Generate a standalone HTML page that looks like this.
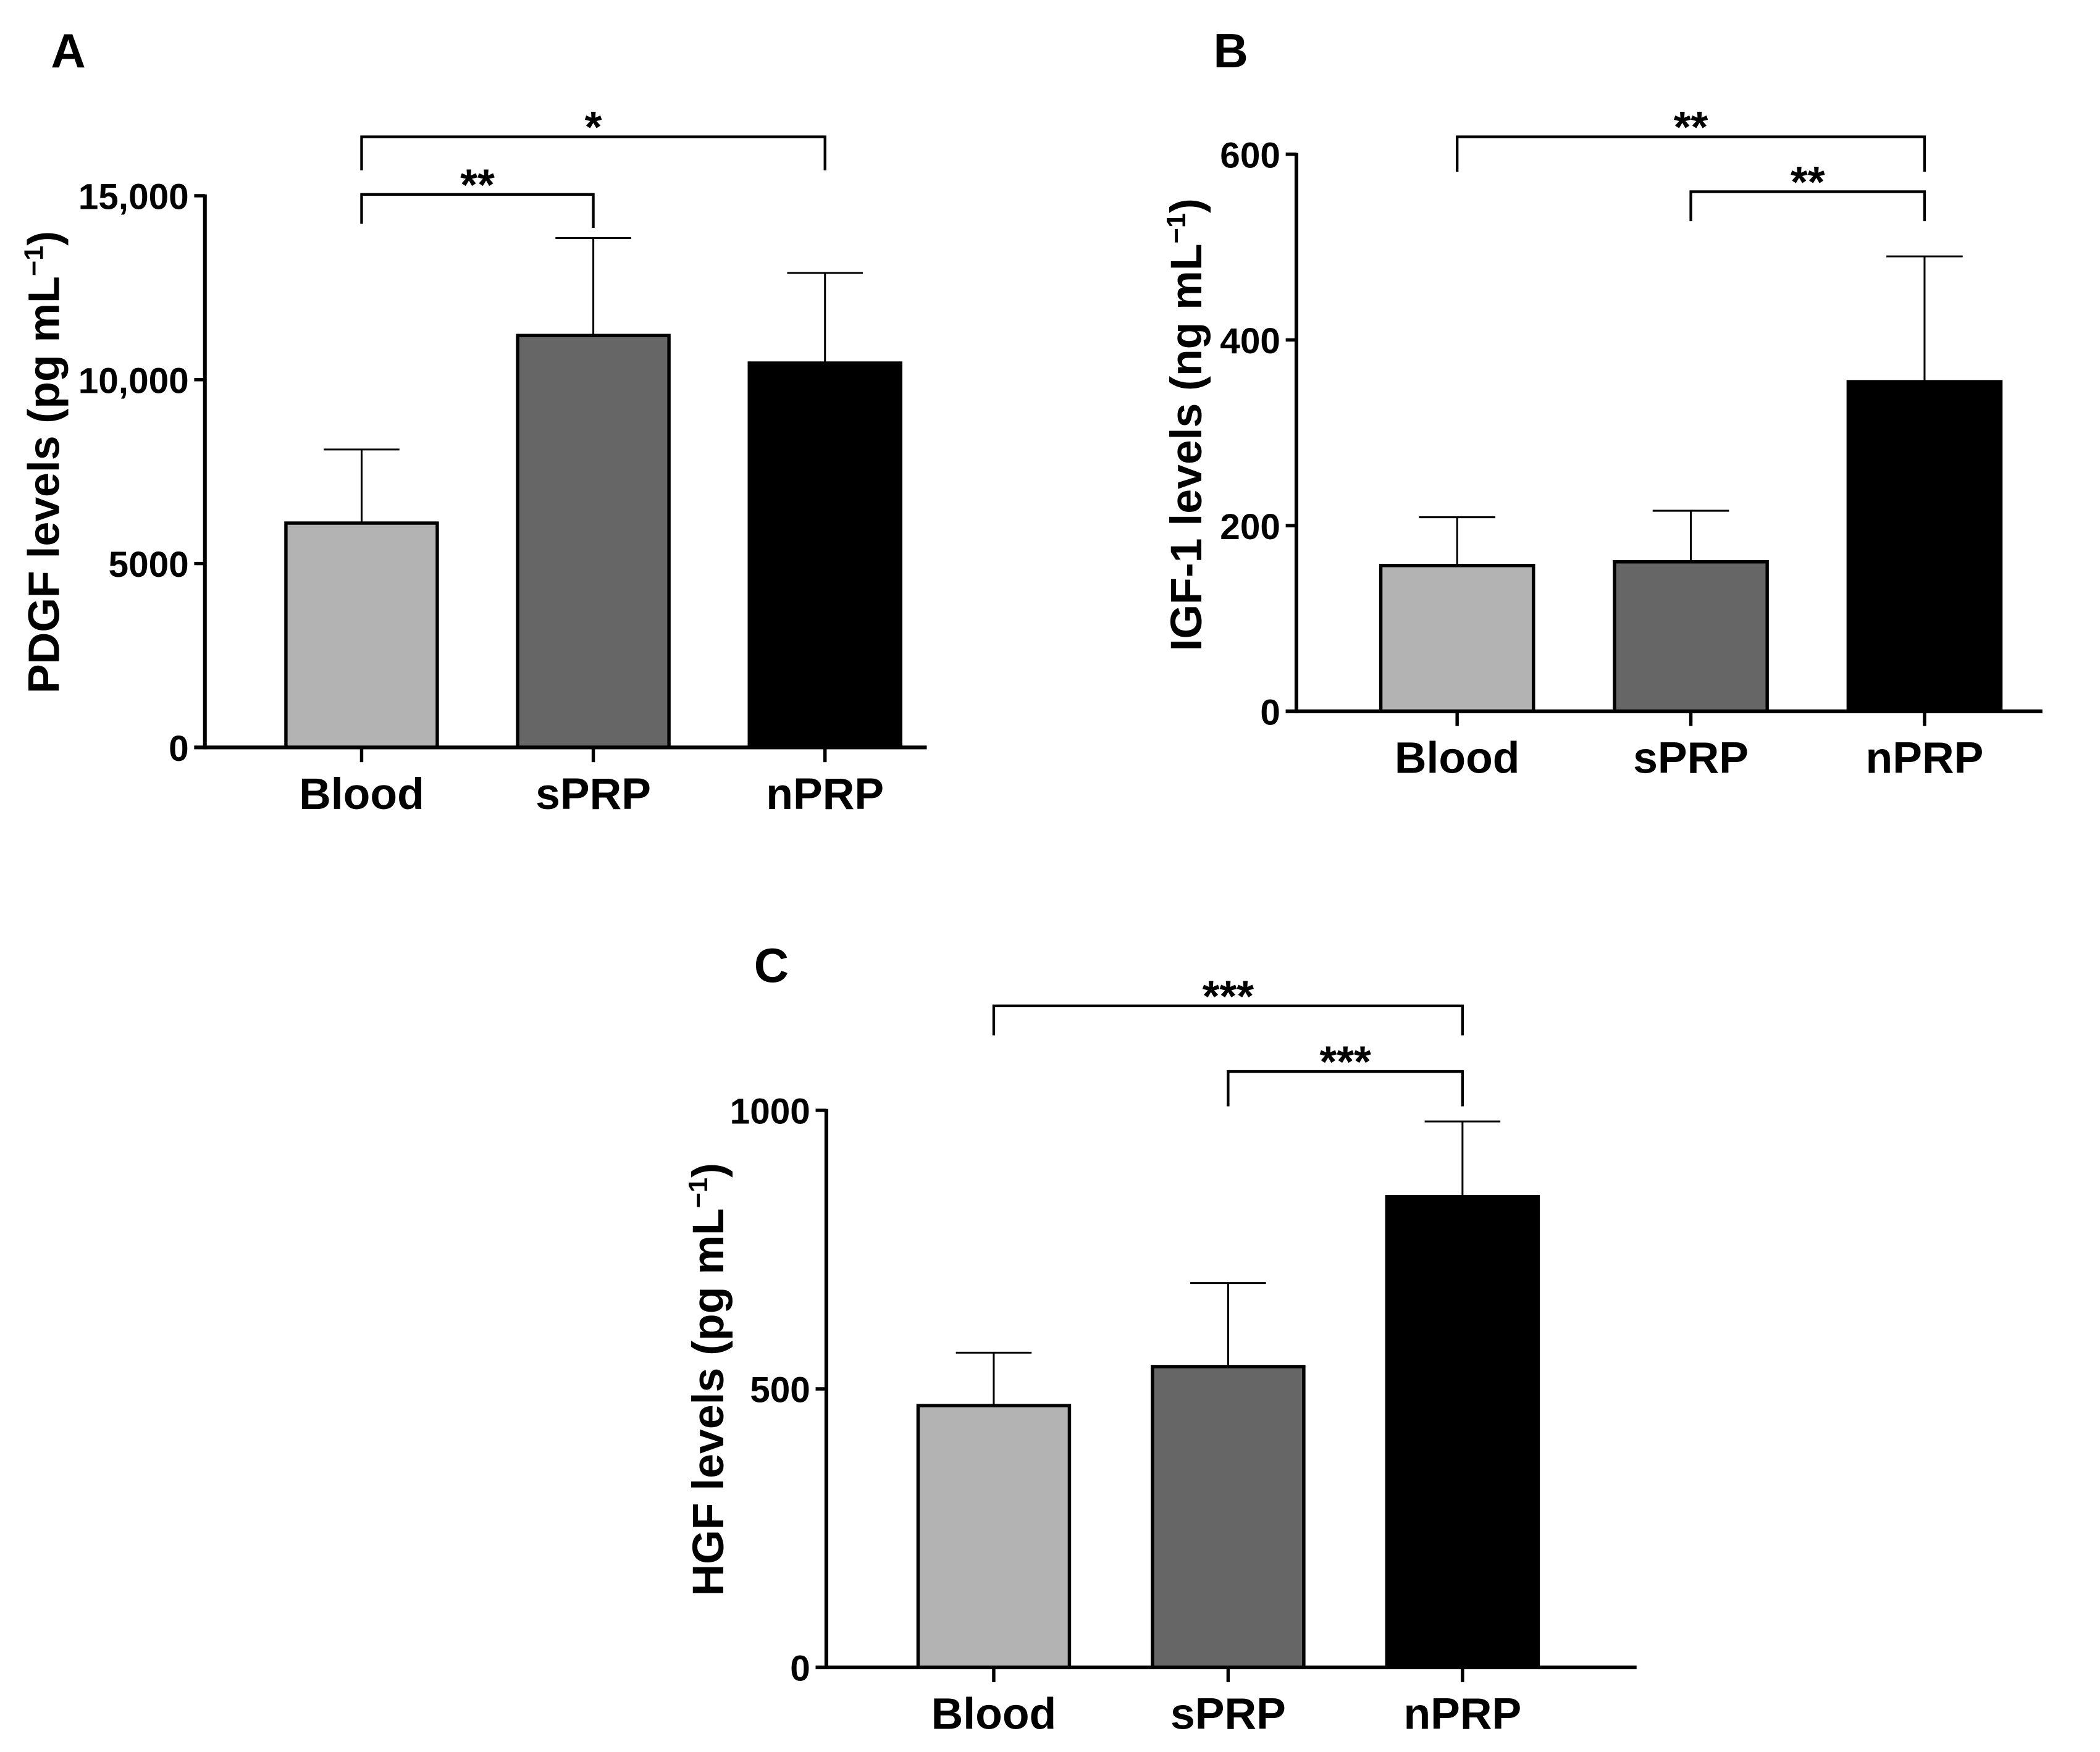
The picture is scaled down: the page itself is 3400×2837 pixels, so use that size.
<!DOCTYPE html>
<html><head><meta charset="utf-8"><style>
html,body{margin:0;padding:0;background:#fff}
svg{display:block}
text{font-family:"Liberation Sans",Arial,sans-serif;font-weight:bold;fill:#000}
</style></head><body>
<svg id="fig" width="3400" height="2837" viewBox="0 0 1568 1308" xmlns="http://www.w3.org/2000/svg"></svg>
<script>
const categories = ["Blood","sPRP","nPRP"];
const pdgfValues = [6100, 11200, 10450];
const pdgfErrors = [8100, 13850, 12900];
const pdgfTicks = [0, 5000, 10000, 15000];
const pdgfTickLabels = ["0","5000","10,000","15,000"];
const igfValues = [157, 161, 355];
const igfErrors = [209, 216, 490];
const igfTicks = [0, 200, 400, 600];
const igfTickLabels = ["0","200","400","600"];
const hgfValues = [470, 540, 845];
const hgfErrors = [565, 690, 980];
const hgfTicks = [0, 500, 1000];
const hgfTickLabels = ["0","500","1000"];
const fills = ["#b3b3b3","#666666","#000000"];

const NS="http://www.w3.org/2000/svg";
const svg=document.getElementById('fig');
function mk(tag,attrs,parent){const e=document.createElementNS(NS,tag);for(const k in attrs)e.setAttribute(k,attrs[k]);(parent||svg).appendChild(e);return e;}

function panel(cfg){
  const g=mk('g',{});
  
  
  const y=v=>cfg.y0-(v-cfg.ymin)/(cfg.ymax-cfg.ymin)*(cfg.y0-cfg.ytop);
  const x=i=>cfg.cx0+i*cfg.step;
  const bw=cfg.bw;
  cfg.values.forEach((v,i)=>{
    const eb=mk('line',{x1:x(i),x2:x(i),y1:y(v),y2:y(cfg.errors[i]),stroke:'#000','stroke-width':1.4},g);
    
    
    const cap=mk('line',{x1:x(i)-bw/4,x2:x(i)+bw/4,y1:y(cfg.errors[i]),y2:y(cfg.errors[i]),stroke:'#000','stroke-width':1.4},g);
    
    
    const r=mk('rect',{x:x(i)-bw/2,y:y(v),width:bw,height:cfg.y0-y(v),fill:fills[i],stroke:'#000','stroke-width':2.5},g);
    
    
    const t=mk('text',{x:x(i),y:cfg.y0+46,'text-anchor':'middle','font-size':33},g);
    t.textContent=categories[i];
    
    
    const tk=mk('line',{x1:x(i),x2:x(i),y1:cfg.y0,y2:cfg.y0+11,stroke:'#000','stroke-width':2.5},g);
    
    
  });
  const ya=mk('line',{x1:cfg.ax,x2:cfg.ax,y1:y(cfg.ymax)-1,y2:cfg.y0+1.4,stroke:'#000','stroke-width':2.8},g);
  
  
  const xa=mk('line',{x1:cfg.ax-8,x2:cfg.xend,y1:cfg.y0,y2:cfg.y0,stroke:'#000','stroke-width':2.8},g);
  
  
  cfg.ticks.forEach((tv,i)=>{
    const l=mk('line',{x1:cfg.ax-8,x2:cfg.ax,y1:y(tv),y2:y(tv),stroke:'#000','stroke-width':2.5},g);
    
    
    const t=mk('text',{x:cfg.ax-12,y:y(tv)+10,'text-anchor':'end','font-size':27},g);
    t.textContent=cfg.tickLabels[i];
    
    
  });
  const tt=mk('text',{x:0,y:0,'text-anchor':'middle','font-size':33,transform:`translate(${cfg.tx},${cfg.ty}) rotate(-90)`},g);
  tt.innerHTML=cfg.title+' mL<tspan font-size="20" dy="-12">−1</tspan><tspan dy="12">)</tspan>';
  
  
  const lt=mk('text',{x:cfg.lx,y:cfg.ly,'font-size':36},g);
  lt.textContent=cfg.letter;
  
  
  cfg.brackets.forEach(b=>{
    const p=mk('path',{d:`M${x(b.a)},${b.la} V${b.y} H${x(b.b)} V${b.lb}`,fill:'none',stroke:'#000','stroke-width':2},g);
    
    
    const s=mk('text',{x:(x(b.a)+x(b.b))/2,y:b.y+4,'text-anchor':'middle','font-size':33},g);
    s.textContent=b.s;
    
    
  });
}

panel({name:'panel-a-pdgf',values:pdgfValues,errors:pdgfErrors,ticks:pdgfTicks,tickLabels:pdgfTickLabels,
  ymin:0,ymax:15000,y0:558,ytop:146,ax:153,xend:692,cx0:270,step:173,bw:113,
  title:'PDGF levels (pg',tx:44,ty:345,letter:'A',lx:38,ly:50,
  brackets:[{a:0,b:2,y:102,la:127,lb:127,s:'*'},{a:0,b:1,y:145,la:167,lb:170,s:'**'}]});
panel({name:'panel-b-igf1',values:igfValues,errors:igfErrors,ticks:igfTicks,tickLabels:igfTickLabels,
  ymin:0,ymax:600,y0:531,ytop:115,ax:968,xend:1525,cx0:1088,step:174.5,bw:114,
  title:'IGF-1 levels (ng',tx:897,ty:317,letter:'B',lx:906,ly:50,
  brackets:[{a:0,b:2,y:102,la:128,lb:128,s:'**'},{a:1,b:2,y:143,la:165,lb:165,s:'**'}]});
panel({name:'panel-c-hgf',values:hgfValues,errors:hgfErrors,ticks:hgfTicks,tickLabels:hgfTickLabels,
  ymin:0,ymax:1000,y0:1245,ytop:829,ax:617,xend:1222,cx0:742,step:175,bw:113,
  title:'HGF levels (pg',tx:540,ty:1030,letter:'C',lx:563,ly:733,
  brackets:[{a:0,b:2,y:751,la:773,lb:773,s:'***'},{a:1,b:2,y:800,la:826,lb:826,s:'***'}]});
</script>
</body></html>
